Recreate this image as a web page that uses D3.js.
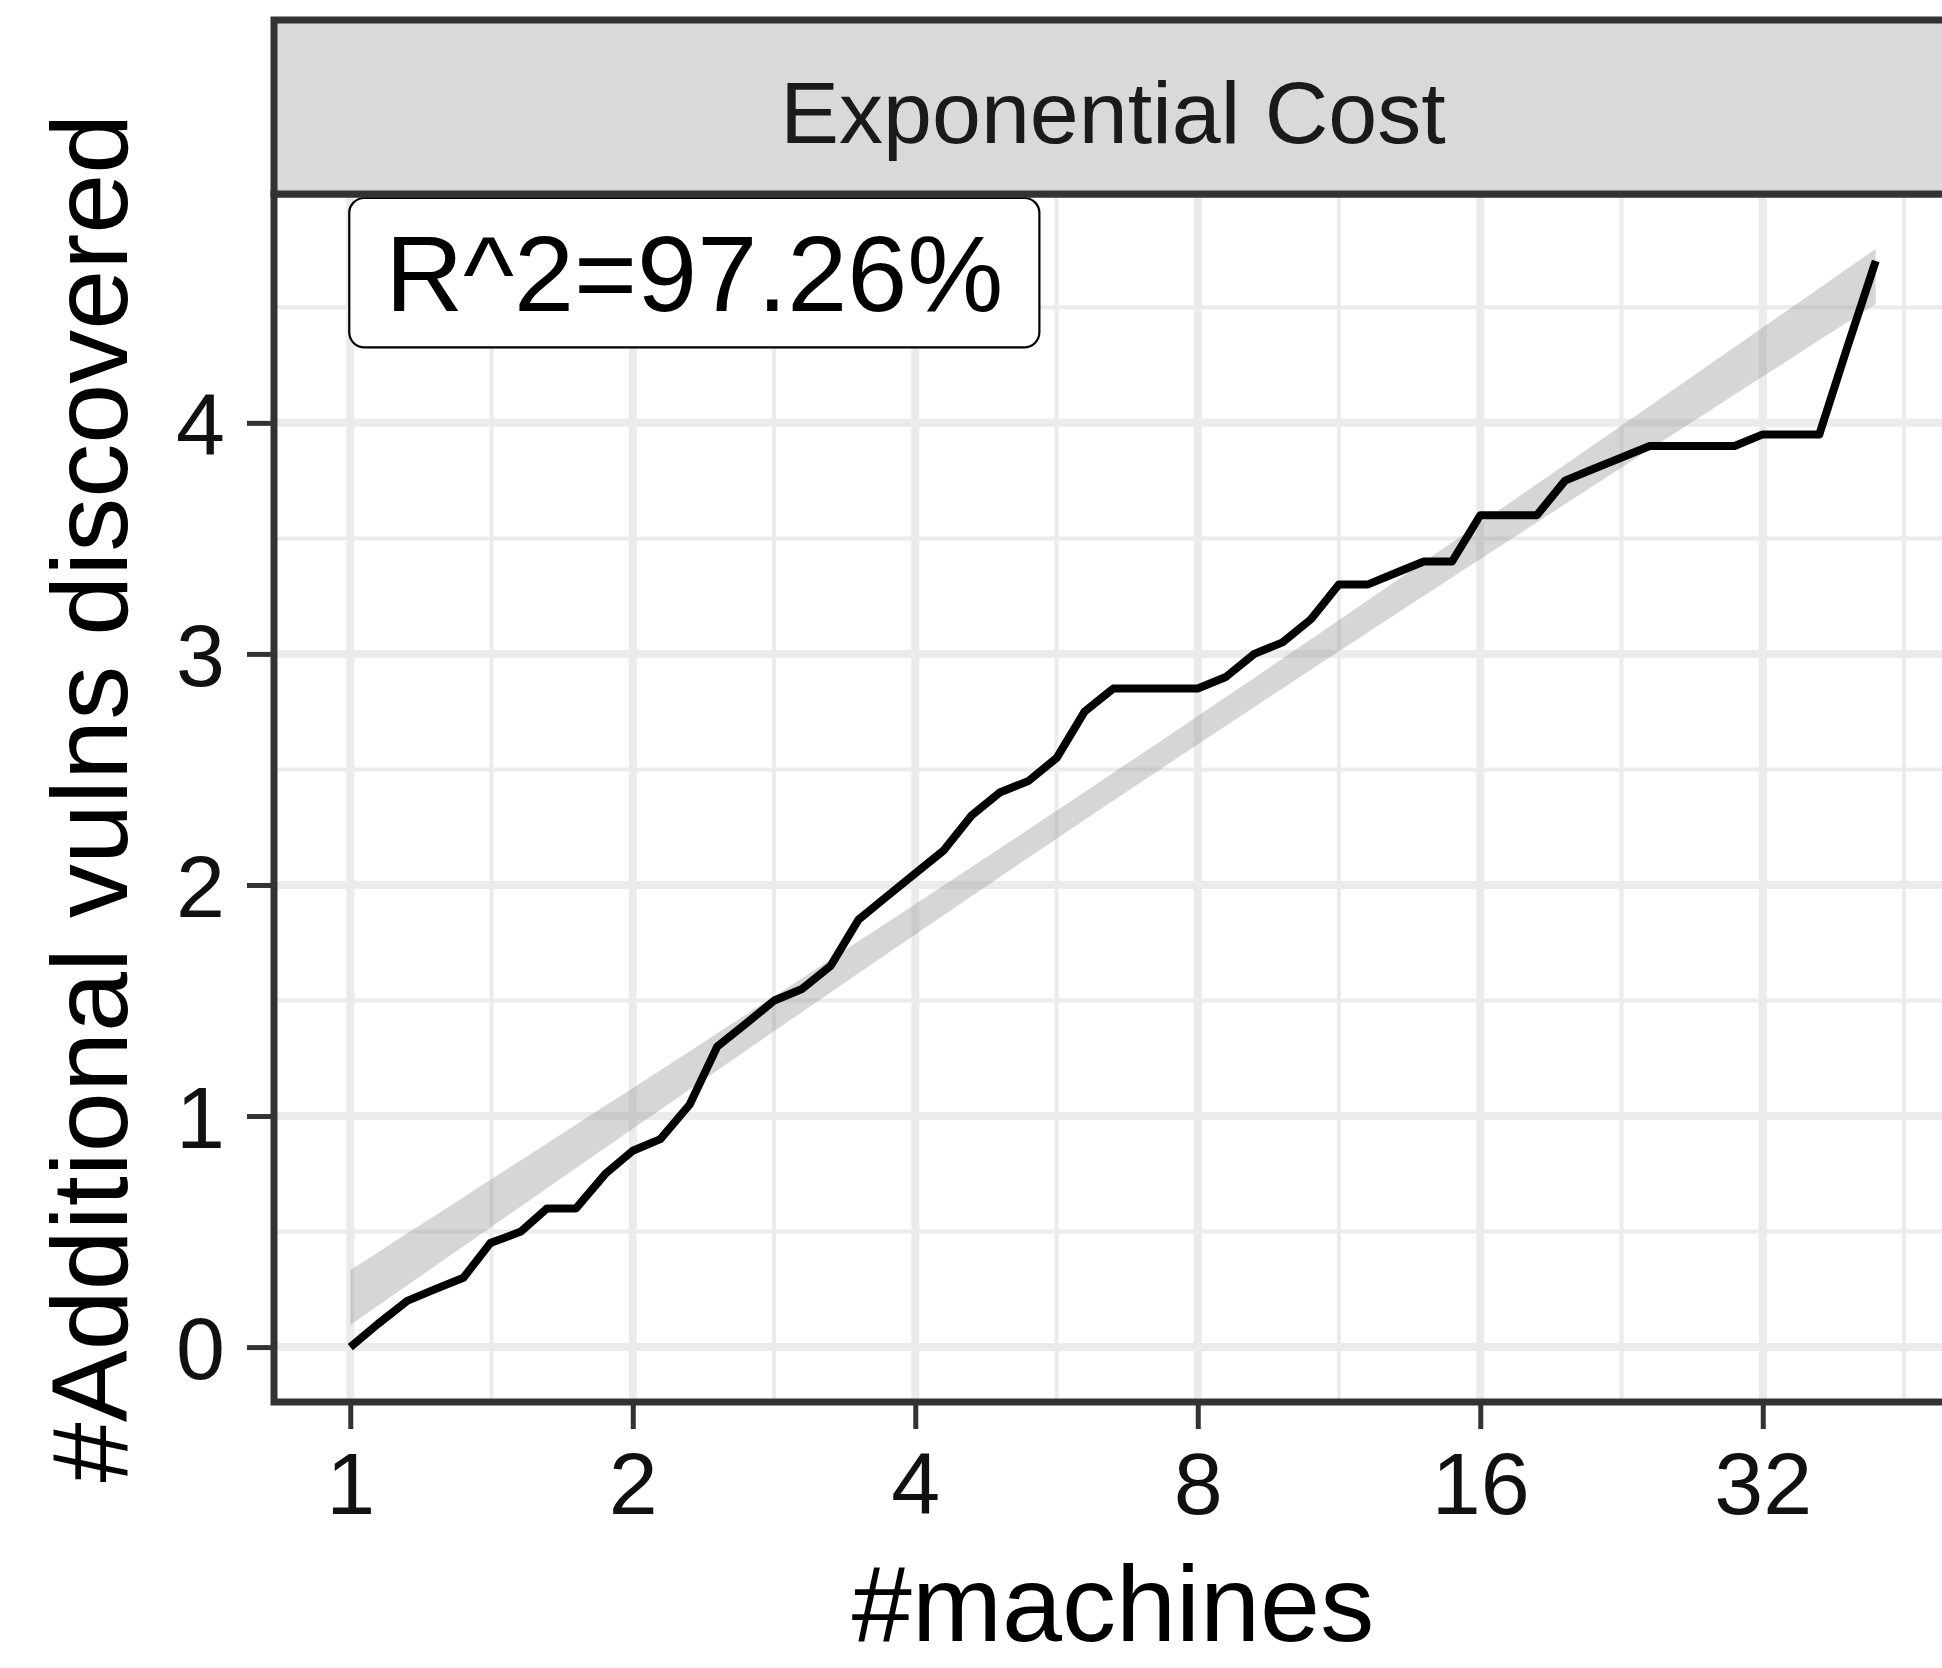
<!DOCTYPE html>
<html>
<head>
<meta charset="utf-8">
<script src="https://cdn.jsdelivr.net/npm/d3@7"></script>
<style>
  html, body { margin: 0; padding: 0; background: #ffffff; }
  svg { display: block; font-family: "Liberation Sans", Arial, Helvetica, sans-serif; }
</style>
</head>
<body>
<svg id="chart" width="1942" height="1668"></svg>
<script>
// Machines used (log2-spaced runs) and mean additional vulnerabilities found
const machines = [
  1, 1.07, 1.15, 1.23, 1.32, 1.41, 1.52, 1.62, 1.74, 1.87,
  2, 2.14, 2.30, 2.46, 2.64, 2.83, 3.03, 3.25, 3.48, 3.73,
  4, 4.29, 4.59, 4.92, 5.28, 5.66, 6.06, 6.50, 6.96, 7.46,
  8, 8.57, 9.19, 9.85, 10.56, 11.31, 12.13, 13.00, 13.93, 14.93,
  16, 17.15, 18.38, 19.70, 21.11, 22.63, 24.25, 25.99, 27.86, 29.86,
  32, 34.30, 36.76, 39.40, 42.22
];
const vulns = [
  0.00, 0.10, 0.20, 0.25, 0.30, 0.45, 0.50, 0.60, 0.60, 0.75,
  0.85, 0.90, 1.05, 1.30, 1.40, 1.50, 1.55, 1.65, 1.85, 1.95,
  2.05, 2.15, 2.30, 2.40, 2.45, 2.55, 2.75, 2.85, 2.85, 2.85,
  2.85, 2.90, 3.00, 3.05, 3.15, 3.30, 3.30, 3.35, 3.40, 3.40,
  3.60, 3.60, 3.60, 3.75, 3.80, 3.85, 3.90, 3.90, 3.90, 3.90,
  3.95, 3.95, 3.95, 4.33, 4.70
];
const xTicks = [1, 2, 4, 8, 16, 32];
const yTicks = [0, 1, 2, 3, 4];
const stripTitle = "Exponential Cost";
const fitLabel = "R^2=97.26%";
const xTitle = "#machines";
const yTitle = "#Additional vulns discovered";
const tCrit = 2.006; // 97.5% t quantile, n - 2 degrees of freedom

// Layout
const W = 1942, H = 1668;
const panel = { left: 274, right: 1952, top: 194, bottom: 1402 };
const stripTop = 20;
const dark = "#333333";

const svg = d3.select("#chart");

// Linear fit of vulns on log2(machines) with 95% confidence band
const lx = machines.map(Math.log2);
const n = lx.length;
const mx = d3.mean(lx), my = d3.mean(vulns);
let sxx = 0, sxy = 0;
for (let i = 0; i < n; i++) { sxx += (lx[i] - mx) ** 2; sxy += (lx[i] - mx) * (vulns[i] - my); }
const slope = sxy / sxx, icpt = my - slope * mx;
let sse = 0;
for (let i = 0; i < n; i++) sse += (vulns[i] - (icpt + slope * lx[i])) ** 2;
const sRes = Math.sqrt(sse / (n - 2));
const lLo = d3.min(lx), lHi = d3.max(lx);
const band = d3.range(80).map(i => {
  const l = lLo + (lHi - lLo) * i / 79;
  const fit = icpt + slope * l;
  const se = sRes * Math.sqrt(1 / n + (l - mx) ** 2 / sxx);
  return { m: 2 ** l, lo: fit - tCrit * se, hi: fit + tCrit * se };
});

// Scales with 5% expansion of the data range
const xPad = 0.05 * (lHi - lLo);
const x = d3.scaleLog().base(2)
  .domain([2 ** (lLo - xPad), 2 ** (lHi + xPad)])
  .range([panel.left, panel.right]);
const yLo = Math.min(d3.min(vulns), d3.min(band, d => d.lo));
const yHi = Math.max(d3.max(vulns), d3.max(band, d => d.hi));
const yPad = 0.05 * (yHi - yLo);
const y = d3.scaleLinear()
  .domain([yLo - yPad, yHi + yPad])
  .range([panel.bottom, panel.top]);

svg.append("rect").attr("width", W).attr("height", H).attr("fill", "#ffffff");

svg.append("defs").append("clipPath").attr("id", "panel-clip")
  .append("rect")
  .attr("x", panel.left).attr("y", panel.top)
  .attr("width", panel.right - panel.left).attr("height", panel.bottom - panel.top);

const plot = svg.append("g").attr("clip-path", "url(#panel-clip)");

// Grid lines: minor between major breaks, then major
const [xd0, xd1] = x.domain().map(Math.log2);
const xMinor = [];
for (let k = Math.floor(xd0) - 1; k <= Math.ceil(xd1); k++) {
  const v = 2 ** (k + 0.5);
  if (Math.log2(v) >= xd0 && Math.log2(v) <= xd1) xMinor.push(v);
}
const [yd0, yd1] = y.domain();
const yMinor = [];
for (let k = Math.floor(yd0) - 1; k <= Math.ceil(yd1); k++) {
  const v = k + 0.5;
  if (v >= yd0 && v <= yd1) yMinor.push(v);
}
const grid = plot.append("g").attr("stroke", "#ebebeb").attr("fill", "none");
grid.selectAll("line.xminor").data(xMinor).join("line").attr("class", "xminor")
  .attr("x1", d => x(d)).attr("x2", d => x(d))
  .attr("y1", panel.top).attr("y2", panel.bottom).attr("stroke-width", 4);
grid.selectAll("line.yminor").data(yMinor).join("line").attr("class", "yminor")
  .attr("y1", d => y(d)).attr("y2", d => y(d))
  .attr("x1", panel.left).attr("x2", panel.right).attr("stroke-width", 4);
grid.selectAll("line.xmajor").data(xTicks).join("line").attr("class", "xmajor")
  .attr("x1", d => x(d)).attr("x2", d => x(d))
  .attr("y1", panel.top).attr("y2", panel.bottom).attr("stroke-width", 8);
grid.selectAll("line.ymajor").data(yTicks).join("line").attr("class", "ymajor")
  .attr("y1", d => y(d)).attr("y2", d => y(d))
  .attr("x1", panel.left).attr("x2", panel.right).attr("stroke-width", 8);

// Confidence ribbon of the fit
plot.append("path")
  .datum(band)
  .attr("fill", "#999999").attr("fill-opacity", 0.4)
  .attr("d", d3.area().x(d => x(d.m)).y0(d => y(d.lo)).y1(d => y(d.hi)));

// Observed curve
plot.append("path")
  .datum(machines.map((m, i) => ({ m, v: vulns[i] })))
  .attr("fill", "none").attr("stroke", "#000000").attr("stroke-width", 8)
  .attr("stroke-linejoin", "round").attr("stroke-linecap", "butt")
  .attr("d", d3.line().x(d => x(d.m)).y(d => y(d.v)));

// R^2 label box
const labelFont = 108, labelPad = 36, capH = 0.716 * labelFont;
const lab = plot.append("g");
const labBox = lab.append("rect");
const labText = lab.append("text")
  .attr("font-size", labelFont).attr("fill", "#000000")
  .text(fitLabel);
const boxLeft = x(machines[0]) - 1, boxTop = panel.top + 4;
labText.attr("x", boxLeft + labelPad).attr("y", boxTop + labelPad + capH);
const tw = labText.node().getComputedTextLength();
labBox.attr("x", boxLeft).attr("y", boxTop)
  .attr("width", tw + 2 * labelPad).attr("height", capH + 2 * labelPad)
  .attr("rx", 15).attr("ry", 15)
  .attr("fill", "#ffffff").attr("stroke", "#000000").attr("stroke-width", 2.2);

// Panel border
svg.append("rect")
  .attr("x", panel.left).attr("y", panel.top)
  .attr("width", panel.right - panel.left).attr("height", panel.bottom - panel.top)
  .attr("fill", "none").attr("stroke", dark).attr("stroke-width", 7);

// Facet strip
svg.append("rect")
  .attr("x", panel.left).attr("y", stripTop)
  .attr("width", panel.right - panel.left).attr("height", panel.top - stripTop)
  .attr("fill", "#d9d9d9").attr("stroke", dark).attr("stroke-width", 7);
svg.append("text")
  .attr("x", (panel.left + panel.right) / 2).attr("y", 143)
  .attr("text-anchor", "middle").attr("font-size", 88).attr("fill", "#1a1a1a")
  .text(stripTitle);

// Axes
const xAxis = svg.append("g")
  .attr("transform", `translate(0,${panel.bottom})`)
  .call(d3.axisBottom(x).tickValues(xTicks).tickFormat(d3.format("d"))
    .tickSize(27).tickPadding(23));
const yAxis = svg.append("g")
  .attr("transform", `translate(${panel.left},0)`)
  .call(d3.axisLeft(y).tickValues(yTicks).tickFormat(d3.format("d"))
    .tickSize(27).tickPadding(22));
[xAxis, yAxis].forEach(g => {
  g.select(".domain").remove();
  g.selectAll(".tick line").attr("stroke", dark).attr("stroke-width", 5);
  g.selectAll(".tick text").attr("font-size", 88).attr("fill", "#111111")
    .attr("font-family", "'Liberation Sans', Arial, sans-serif");
});
yAxis.selectAll(".tick text").attr("dy", "0.36em");

// Axis titles
svg.append("text")
  .attr("x", (panel.left + panel.right) / 2).attr("y", 1641)
  .attr("text-anchor", "middle").attr("font-size", 108).attr("fill", "#000000")
  .text(xTitle);
svg.append("text")
  .attr("transform", `translate(127,${(panel.top + panel.bottom) / 2}) rotate(-90)`)
  .attr("text-anchor", "middle").attr("font-size", 108).attr("fill", "#000000")
  .text(yTitle);
</script>
</body>
</html>
